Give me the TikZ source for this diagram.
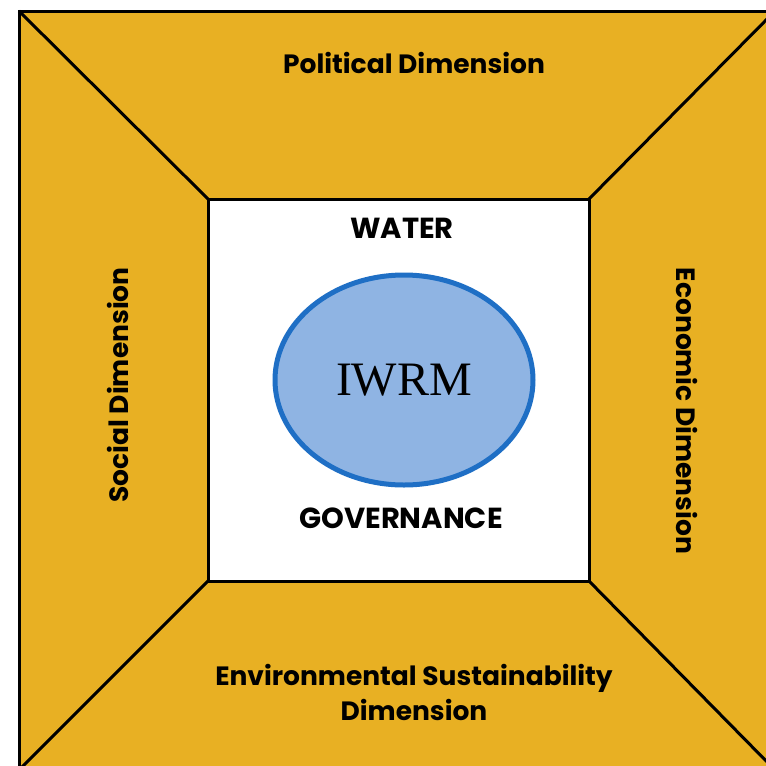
\documentclass[tikz,border=0pt]{standalone}
\usepackage{fontspec}
\setmainfont{Liberation Serif}
\newfontfamily\dimfont{Poppins}[BoldFont={* Bold}]
\usetikzlibrary{shapes.geometric,positioning}
\definecolor{gold}{HTML}{E8B023}
\definecolor{iwrmfill}{HTML}{8FB4E3}
\definecolor{iwrmline}{HTML}{1F6FC5}
\tikzset{panel/.style={fill=gold, draw=black, line width=3pt, line join=miter},
         dimlabel/.style={font=\dimfont\bfseries\fontsize{26.5}{35}\selectfont, align=center, inner sep=0pt},
         govlabel/.style={font=\dimfont\bfseries\fontsize{29}{35}\selectfont, inner sep=0pt}}

\begin{document}
\begin{tikzpicture}[x=1pt, y=-1pt]
                \useasboundingbox (0,0) rectangle (766,766);
                \clip (0,0) rectangle (766,766);
                \fill[white] (0,0) rectangle (766,766);

                % outer and inner corners
                \coordinate (otl) at (19,11);
                \coordinate (otr) at (775,11);
                \coordinate (obr) at (775,770);
                \coordinate (obl) at (19,770);
                \coordinate (itl) at (208,199);
                \coordinate (itr) at (589,199);
                \coordinate (ibr) at (589,581);
                \coordinate (ibl) at (208,581);

                \draw[panel] (otl) -- (otr) -- (obr) -- (obl) -- cycle;
                \draw[fill=white, draw=black, line width=3pt] (itl) rectangle (ibr);
                \path[draw=black, line width=3pt] (otl) edge (itl)
                    (otr) edge (itr)
                    (obr) edge (ibr)
                    (obl) edge (ibl);

                \node [ellipse, fill=iwrmfill, draw=iwrmline, line width=5pt,
                       minimum width=258pt, minimum height=210pt,
                       font=\fontsize{48}{52}\selectfont] (iwrm) at (404,380) {IWRM};

                \node [govlabel] (water) at (402,228) {WATER};
                \node [govlabel] (gov) at (401,518) {GOVERNANCE};

                \node [dimlabel] (pol) at (414,63) {Political Dimension};
                \node [dimlabel, rotate=90] (soc) at (118,385) {Social Dimension};
                \node [dimlabel, rotate=-90] (eco) at (687,411) {Economic Dimension};
                \node [dimlabel] (env) at (414,692) {Environmental Sustainability\\Dimension};
\end{tikzpicture}
\end{document}
